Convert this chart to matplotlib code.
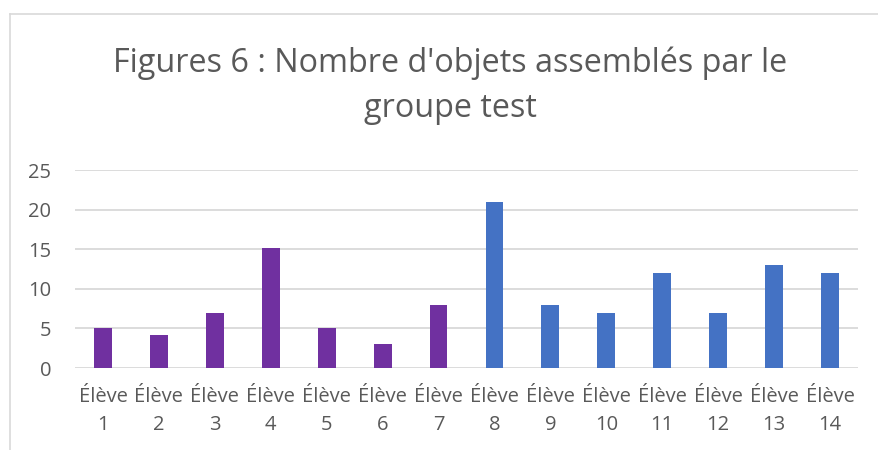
import matplotlib
matplotlib.use("Agg")
import matplotlib.pyplot as plt
from matplotlib.lines import Line2D

# data
eleves = [f"Élève\n{i}" for i in range(1, 15)]
objets = [5, 4.2, 7, 15.1, 5, 3, 8, 21, 8, 7, 12, 7, 13, 12]
groupes = ["a"] * 7 + ["b"] * 7
yticks = [0, 5, 10, 15, 20, 25]
titre = "Figures 6 : Nombre d'objets assemblés par le\ngroupe test"

couleurs = {"a": "#7030A0", "b": "#4472C4"}
gris_txt = "#595959"

plt.rcParams["font.family"] = ["Open Sans", "DejaVu Sans"]

fig = plt.figure(figsize=(8.79, 4.5), dpi=100)
ax = fig.add_axes([75 / 879, 82 / 450, 783 / 879, 198 / 450])

x = list(range(len(objets)))
ax.bar(x, objets, width=0.32, color=[couleurs[g] for g in groupes], zorder=3)

ax.set_xlim(-0.5, len(objets) - 0.5)
ax.set_ylim(0, 25)
ax.set_yticks(yticks)
ax.set_xticks(x)
ax.set_xticklabels(eleves, linespacing=1.5)
ax.yaxis.grid(True, color="#D9D9D9", linewidth=1.3, zorder=0)
for s in ax.spines.values():
    s.set_visible(False)
ax.tick_params(axis="both", length=0, labelsize=14.5, colors=gris_txt)
ax.tick_params(axis="y", pad=17)
ax.tick_params(axis="x", pad=14)

fig.text(450 / 879, 1 - 47 / 450, titre, ha="center", va="top",
         fontsize=23.3, color=gris_txt, linespacing=1.45)

# chart frame (top and left edges visible in the crop)
fig.add_artist(Line2D([10 / 879, 1], [1 - 14 / 450] * 2, color="#D9D9D9", lw=1.2))
fig.add_artist(Line2D([10 / 879] * 2, [0, 1 - 14 / 450], color="#D9D9D9", lw=1.2))

fig.savefig("out.png", dpi=100, facecolor="white")
